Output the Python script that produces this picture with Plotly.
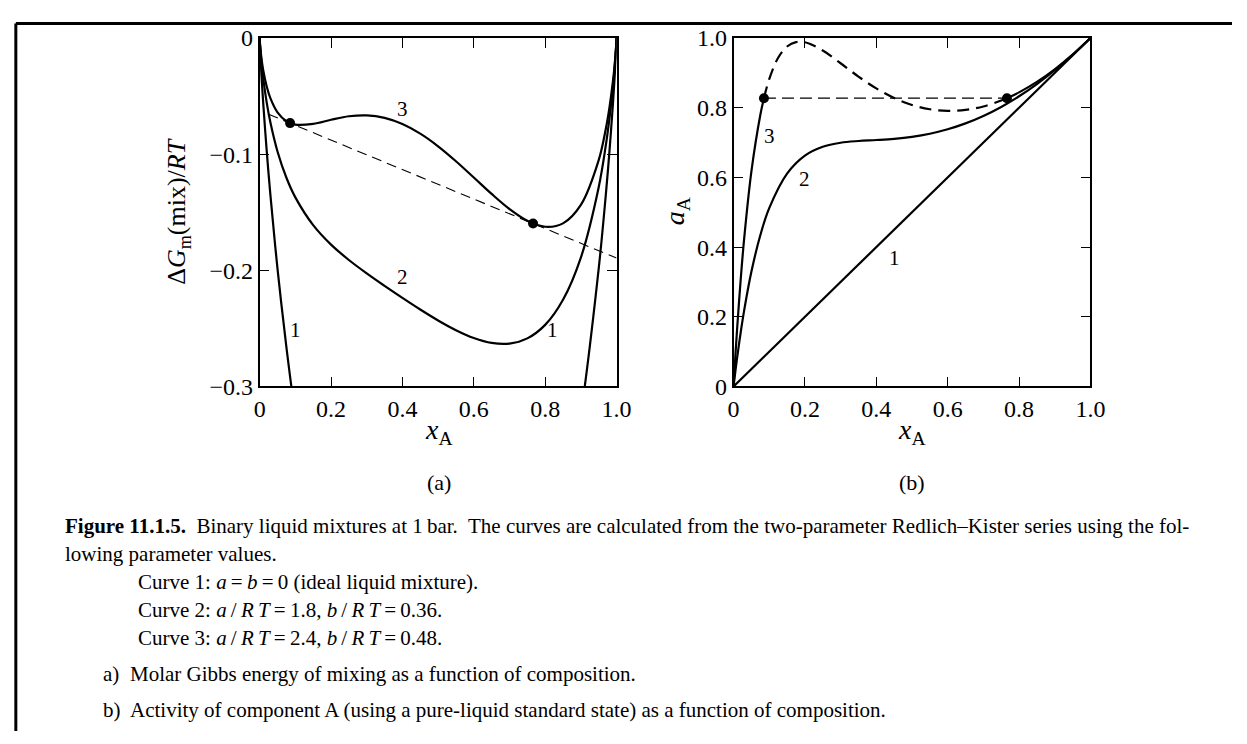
import plotly.graph_objects as go

# composition grid for panel (a)
x_a = [0, 0.001, 0.005, 0.01, 0.02, 0.03, 0.05, 0.075, 0.1, 0.15, 0.2, 0.25, 0.3, 0.35, 0.4,
       0.45, 0.5, 0.55, 0.6, 0.65, 0.7, 0.75, 0.8, 0.85, 0.9, 0.95, 0.97, 0.98, 0.99, 0.995, 0.999, 1]

# Delta G_m(mix)/RT, curves 1-3
g_curve1 = [0, -0.00791, -0.03148, -0.05600, -0.09804, -0.13474, -0.19851, -0.26638, -0.32508,
            -0.42271, -0.50040, -0.56233, -0.61086, -0.64744, -0.67301, -0.68814, -0.69315,
            -0.68814, -0.67301, -0.64744, -0.61086, -0.56233, -0.50040, -0.42271, -0.32508,
            -0.19851, -0.13474, -0.09804, -0.05600, -0.03148, -0.00791, 0]
g_curve2 = [0, -0.00575, -0.02075, -0.03469, -0.05599, -0.07251, -0.09762, -0.12028, -0.13716,
            -0.16108, -0.17784, -0.19108, -0.20262, -0.21337, -0.22373, -0.23373, -0.24315,
            -0.25155, -0.25829, -0.26251, -0.26310, -0.25858, -0.24696, -0.22534, -0.18900,
            -0.12840, -0.09221, -0.06953, -0.04167, -0.02430, -0.00647, 0]
g_curve3 = [0, -0.00503, -0.01718, -0.02758, -0.04197, -0.05177, -0.06399, -0.07157, -0.07452,
            -0.07387, -0.07032, -0.06733, -0.06654, -0.06868, -0.07397, -0.08226, -0.09315,
            -0.10602, -0.12005, -0.13420, -0.14718, -0.15733, -0.16248, -0.15955, -0.14364,
            -0.10503, -0.07803, -0.06003, -0.03690, -0.02190, -0.00599, 0]

# common tangent (dashed) and coexisting compositions
tangent_x = [0.025, 1.0]
tangent_g = [-0.0656, -0.1894]
tie_x = [0.0852, 0.7661]
tie_g = [-0.0732, -0.1597]
tie_a = [0.8275, 0.8275]

# activity of A, panel (b)
x_b = [0, 0.001, 0.005, 0.01, 0.02, 0.03, 0.05, 0.075, 0.1, 0.15, 0.2, 0.25, 0.3, 0.35, 0.4,
       0.45, 0.5, 0.55, 0.6, 0.65, 0.7, 0.75, 0.8, 0.85, 0.9, 0.95, 1]
a_curve1 = [0, 1]
x_curve1 = [0, 1]
a_curve2 = [0, 0.00862, 0.04213, 0.08190, 0.15486, 0.21984, 0.32913, 0.43408, 0.51190, 0.61105,
            0.66275, 0.68812, 0.69960, 0.70457, 0.70748, 0.71097, 0.71666, 0.72555, 0.73825,
            0.75514, 0.77648, 0.80237, 0.83291, 0.86809, 0.90781, 0.95188, 1]
x3_low = [0, 0.001, 0.005, 0.01, 0.02, 0.03, 0.05, 0.075, 0.0852]
a3_low = [0, 0.01768, 0.08573, 0.16508, 0.30637, 0.42701, 0.61682, 0.77936, 0.8275]
x3_mid = [0.0852, 0.1, 0.125, 0.15, 0.175, 0.2, 0.25, 0.3, 0.35, 0.4, 0.45, 0.5, 0.55, 0.6,
          0.65, 0.7, 0.75, 0.7661]
a3_mid = [0.8275, 0.88223, 0.94347, 0.97590, 0.98861, 0.98807, 0.96436, 0.92774, 0.88964,
          0.85558, 0.82806, 0.80804, 0.79575, 0.79109, 0.79385, 0.80378, 0.82063, 0.8275]
x3_high = [0.7661, 0.8, 0.85, 0.9, 0.95, 1]
a3_high = [0.8275, 0.84418, 0.87421, 0.91043, 0.95251, 1]

W, H = 1247, 744
FONT = "Liberation Serif, Times New Roman, serif"


def px(x):
    return x / W


def py(y):
    return 1 - y / H


fig = go.Figure()
solid = dict(color="black", width=2.2)

for ys in (g_curve1, g_curve2, g_curve3):
    fig.add_trace(go.Scatter(x=x_a, y=ys, mode="lines", line=dict(shape="spline", **solid),
                             xaxis="x", yaxis="y"))
fig.add_trace(go.Scatter(x=tangent_x, y=tangent_g, mode="lines",
                         line=dict(color="black", width=1.1, dash="10px,6px"), xaxis="x", yaxis="y"))
fig.add_trace(go.Scatter(x=tie_x, y=tie_g, mode="markers", marker=dict(color="black", size=10),
                         xaxis="x", yaxis="y"))

fig.add_trace(go.Scatter(x=x_curve1, y=a_curve1, mode="lines", line=solid, xaxis="x2", yaxis="y2"))
fig.add_trace(go.Scatter(x=x_b, y=a_curve2, mode="lines", line=dict(shape="spline", **solid),
                         xaxis="x2", yaxis="y2"))
fig.add_trace(go.Scatter(x=x3_low, y=a3_low, mode="lines", line=dict(shape="spline", **solid),
                         xaxis="x2", yaxis="y2"))
fig.add_trace(go.Scatter(x=x3_mid, y=a3_mid, mode="lines",
                         line=dict(shape="spline", color="black", width=2.2, dash="12px,7px"),
                         xaxis="x2", yaxis="y2"))
fig.add_trace(go.Scatter(x=x3_high, y=a3_high, mode="lines", line=dict(shape="spline", **solid),
                         xaxis="x2", yaxis="y2"))
fig.add_trace(go.Scatter(x=tie_x, y=tie_a, mode="lines",
                         line=dict(color="black", width=1.3, dash="12px,6px"), xaxis="x2", yaxis="y2"))
fig.add_trace(go.Scatter(x=tie_x, y=tie_a, mode="markers", marker=dict(color="black", size=10),
                         xaxis="x2", yaxis="y2"))

axis_common = dict(showline=True, linecolor="black", linewidth=1.5, mirror="ticks", ticks="inside",
                   ticklen=10, tickwidth=1.3, tickcolor="black", showgrid=False, zeroline=False,
                   tickfont=dict(family=FONT, size=24, color="black"))
xticks = [0, 0.2, 0.4, 0.6, 0.8, 1.0]
xtext = ["0", "0.2", "0.4", "0.6", "0.8", "1.0"]

fig.update_layout(
    width=W, height=H, margin=dict(l=0, r=0, t=0, b=0),
    paper_bgcolor="white", plot_bgcolor="white", showlegend=False,
    xaxis=dict(domain=[px(258), px(621)], range=[0, 1], tickvals=xticks, ticktext=xtext,
               anchor="y", **axis_common),
    yaxis=dict(domain=[py(387), py(26)], range=[-0.3, 0], tickvals=[0, -0.1, -0.2, -0.3],
               ticktext=["0", "\u22120.1", "\u22120.2", "\u22120.3"], anchor="x", **axis_common),
    xaxis2=dict(domain=[px(740), px(1103)], range=[0, 1], tickvals=xticks, ticktext=xtext,
                anchor="y2", **axis_common),
    yaxis2=dict(domain=[py(387), py(26)], range=[0, 1], tickvals=[0, 0.2, 0.4, 0.6, 0.8, 1.0],
                ticktext=["0", "0.2", "0.4", "0.6", "0.8", "1.0"], anchor="x2", **axis_common),
)


def note(text, x, y, size=21, xanchor="center", angle=0, xref="paper", yref="paper"):
    fig.add_annotation(text=text, x=x, y=y, xref=xref, yref=yref, showarrow=False,
                       xanchor=xanchor, yanchor="middle", textangle=angle,
                       font=dict(family=FONT, size=size, color="black"))


# curve numbers
note("3", 0.40, -0.061, xref="x", yref="y")
note("2", 0.40, -0.206, xref="x", yref="y")
note("1", 0.10, -0.251, xref="x", yref="y")
note("1", 0.82, -0.251, xref="x", yref="y")
note("3", 0.10, 0.72, xref="x2", yref="y2")
note("2", 0.20, 0.595, xref="x2", yref="y2")
note("1", 0.45, 0.37, xref="x2", yref="y2")

# axis titles and panel tags
note("\u0394<i>G</i><sub>m</sub>(mix)/<i>RT</i>", px(175), py(206), size=26, angle=-90)
note("<i>a</i><sub>A</sub>", px(682), py(206), size=28, angle=-90)
note("<i>x</i><sub>A</sub>", px(440), py(434), size=28)
note("<i>x</i><sub>A</sub>", px(922), py(434), size=28)
note("(a)", px(440), py(487), size=22)
note("(b)", px(922), py(487), size=22)

# caption
cap = 21
note("<b>Figure 11.1.5.</b>  Binary liquid mixtures at 1\u2009bar.  The curves are calculated from the "
     "two-parameter Redlich\u2013Kister series using the fol-", px(58), py(532), size=cap, xanchor="left")
note("lowing parameter values.", px(58), py(561), size=cap, xanchor="left")
note("Curve 1: <i>a</i>\u2009=\u2009<i>b</i>\u2009=\u20090 (ideal liquid mixture).", px(132), py(590),
     size=cap, xanchor="left")
note("Curve 2: <i>a</i>\u2009/\u2009<i>R\u2009T</i>\u2009=\u20091.8, <i>b</i>\u2009/\u2009<i>R\u2009T</i>"
     "\u2009=\u20090.36.", px(132), py(619), size=cap, xanchor="left")
note("Curve 3: <i>a</i>\u2009/\u2009<i>R\u2009T</i>\u2009=\u20092.4, <i>b</i>\u2009/\u2009<i>R\u2009T</i>"
     "\u2009=\u20090.48.", px(132), py(648), size=cap, xanchor="left")
note("a)", px(97), py(685), size=cap, xanchor="left")
note("Molar Gibbs energy of mixing as a function of composition.", px(124), py(685), size=cap,
     xanchor="left")
note("b)", px(97), py(722), size=cap, xanchor="left")
note("Activity of component A (using a pure-liquid standard state) as a function of composition.",
     px(124), py(722), size=cap, xanchor="left")

# frame around the figure (open at right and bottom)
fig.add_shape(type="line", xref="paper", yref="paper", x0=px(10), y0=py(11), x1=1, y1=py(11),
              line=dict(color="black", width=3))
fig.add_shape(type="line", xref="paper", yref="paper", x0=px(10), y0=py(11), x1=px(10), y1=0,
              line=dict(color="black", width=3))

# the page's default body margin would shift the figure by 8 px
fig.write_html("out.html", config={"displayModeBar": False},
               post_script="document.body.style.margin='0';document.body.style.overflow='hidden';")
